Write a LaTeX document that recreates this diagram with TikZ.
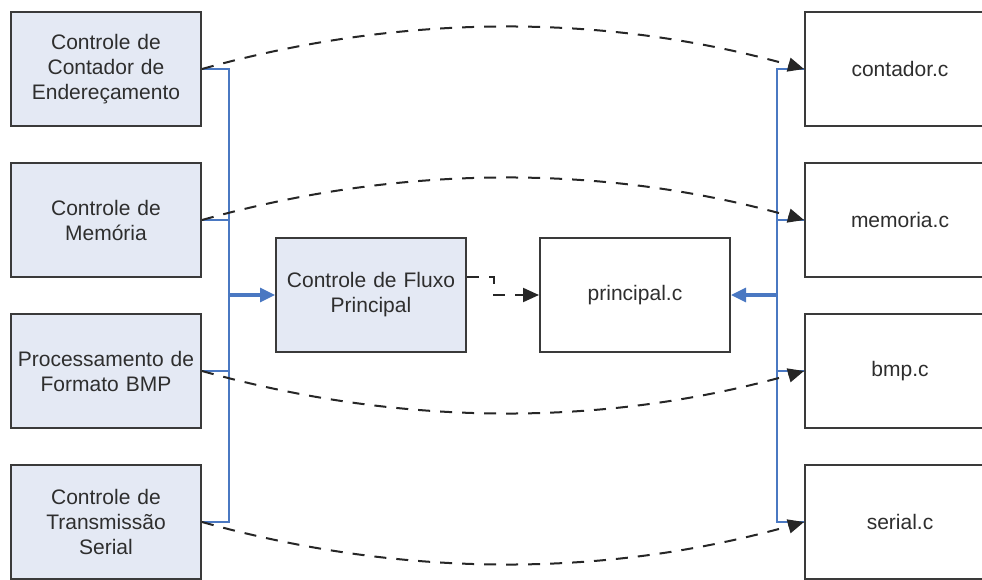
\documentclass[tikz,border=0pt]{standalone}
\usepackage{fontspec}
\setmainfont{Liberation Sans}
\usetikzlibrary{arrows.meta,calc}
\definecolor{boxfill}{HTML}{E4E9F4}
\definecolor{boxline}{HTML}{3A3A3A}
\definecolor{busblue}{HTML}{4A78C2}
\definecolor{txt}{HTML}{2E2E2E}
\begin{document}
\begin{tikzpicture}[x=1pt,y=-1pt,
  modbox/.style={draw=boxline, line width=2pt, fill=boxfill,
    minimum width=190pt, minimum height=114pt, text width=188pt,
    align=center, font=\fontsize{21}{25}\selectfont, text=txt, inner sep=0pt},
  filebox/.style={modbox, fill=white},
  bus/.style={draw=busblue, line width=1.6pt},
  busarrow/.style={draw=busblue, line width=3.2pt, -{Triangle[length=15pt,width=14pt]}},
  dep/.style={draw=black!85, line width=2pt, dash pattern=on 12pt off 10pt,
    -{Triangle[length=16pt,width=14pt]}}
]
\clip (0,0) rectangle (982,580);
\fill[white] (0,0) rectangle (982,580);

% modules (left column)
\node[modbox] (m1) at (106,69)  {Controle de\\Contador de\\Endereçamento};
\node[modbox] (m2) at (106,220) {Controle de\\Memória};
\node[modbox] (m3) at (106,371) {Processamento de\\Formato BMP};
\node[modbox] (m4) at (106,522) {Controle de\\Transmissão\\Serial};

% source files (right column)
\node[filebox] (f1) at (900,69)  {contador.c};
\node[filebox] (f2) at (900,220) {memoria.c};
\node[filebox] (f3) at (900,371) {bmp.c};
\node[filebox] (f4) at (900,522) {serial.c};

% centre
\node[modbox]  (flow) at (371,295) {Controle de Fluxo\\Principal};
\node[filebox] (main) at (635,295) {principal.c};

% left bus
\coordinate (lbtop) at (229,69);
\coordinate (lbbot) at (229,522);
\draw[bus] (m1.east) -- (lbtop) -- (lbbot) -- (m4.east);
\draw[bus] (m2.east) -- (m2.east -| lbtop);
\draw[bus] (m3.east) -- (m3.east -| lbtop);
\draw[busarrow] (flow.west -| lbtop) -- (flow.west);

% right bus
\coordinate (rbtop) at (777,69);
\coordinate (rbbot) at (777,522);
\draw[bus] (f1.west) -- (rbtop) -- (rbbot) -- (f4.west);
\draw[bus] (f2.west) -- (f2.west -| rbtop);
\draw[bus] (f3.west) -- (f3.west -| rbtop);
\draw[busarrow] (main.east -| rbtop) -- (main.east);

% module -> file dependencies
\draw[dep] (m1.east) .. controls ($(m1.east)+(200,-56)$) and ($(f1.west)+(-200,-56)$) .. (f1.west);
\draw[dep] (m2.east) .. controls ($(m2.east)+(200,-56)$) and ($(f2.west)+(-200,-56)$) .. (f2.west);
\draw[dep] (m3.east) .. controls ($(m3.east)+(200,56)$) and ($(f3.west)+(-200,56)$) .. (f3.west);
\draw[dep] (m4.east) .. controls ($(m4.east)+(200,56)$) and ($(f4.west)+(-200,56)$) .. (f4.west);

% main flow -> principal.c
\draw[dep] ([yshift=18pt]flow.east) -- ++(27,0) |- (main.west);
\end{tikzpicture}
\end{document}
